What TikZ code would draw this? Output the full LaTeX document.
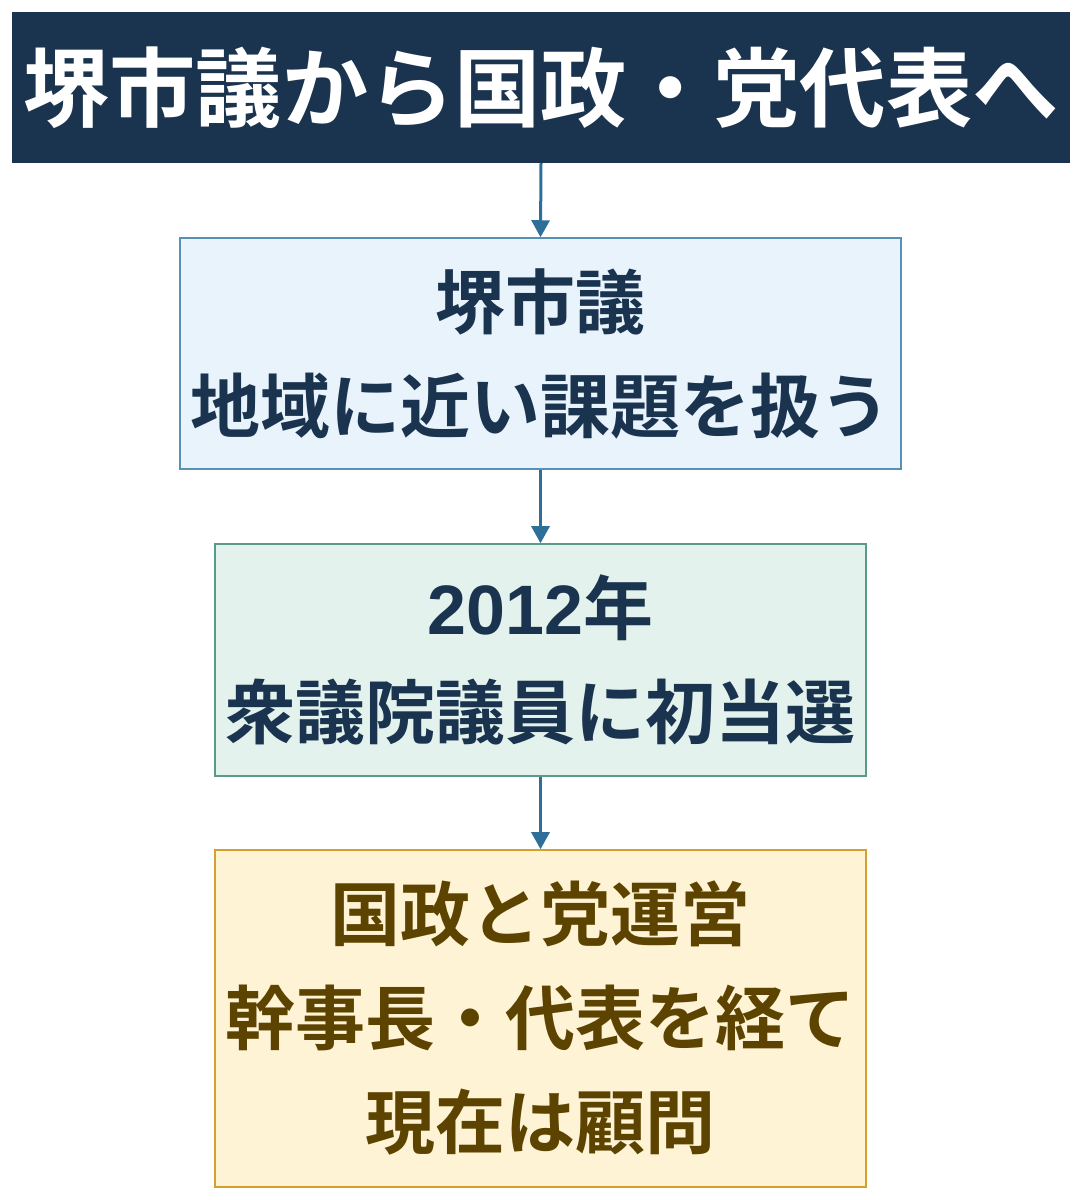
\documentclass[tikz,border=0pt]{standalone}
\usepackage{fontspec}
\setmainfont{Noto Sans CJK JP}[BoldFont={Noto Sans CJK JP Bold}]
\newfontfamily\latinb{Liberation Sans}
\usetikzlibrary{arrows.meta}
\definecolor{navy}{HTML}{1A334F}
\definecolor{arrowc}{HTML}{2E6F99}
\definecolor{bluefill}{HTML}{E8F3FC}
\definecolor{blueline}{HTML}{5A8FB5}
\definecolor{greenfill}{HTML}{E3F2EC}
\definecolor{greenline}{HTML}{5A9A8A}
\definecolor{yelfill}{HTML}{FFF3D6}
\definecolor{yelline}{HTML}{D4A030}
\definecolor{browntext}{HTML}{5C4300}
\tikzset{
  titlebox/.style={fill=navy, draw=none, text=white, minimum width=1058pt, minimum height=151pt, inner sep=0pt,
    font=\fontsize{86.3pt}{100pt}\selectfont\bfseries},
  stepbox/.style={line width=1.5pt, inner sep=0pt, align=center,
    font=\fontsize{70pt}{104pt}\selectfont\bfseries},
  conn/.style={arrowc, line width=3pt, -{Triangle[width=18pt,length=17pt]}}
}
\begin{document}
\begin{tikzpicture}[x=1pt,y=1pt]
\useasboundingbox (0,0) rectangle (1083,1200);
\node[titlebox] (title) at (541,1112.5) {堺市議から国政・党代表へ};
\node[stepbox, fill=bluefill, draw=blueline, text=navy, minimum width=721pt, minimum height=231pt] (b1) at (540.5,846.5) {堺市議\\地域に近い課題を扱う};
\node[stepbox, fill=greenfill, draw=greenline, text=navy, minimum width=651pt, minimum height=232pt] (b2) at (540.5,540) {{\latinb\bfseries 2012}年\\衆議院議員に初当選};
\node[stepbox, fill=yelfill, draw=yelline, text=browntext, minimum width=651pt, minimum height=337pt] (b3) at (540.5,181.5) {国政と党運営\\幹事長・代表を経て\\現在は顧問};
\draw[conn] (title.south) -- (b1.north);
\draw[conn] (b1.south) -- (b2.north);
\draw[conn] (b2.south) -- (b3.north);
\end{tikzpicture}
\end{document}
